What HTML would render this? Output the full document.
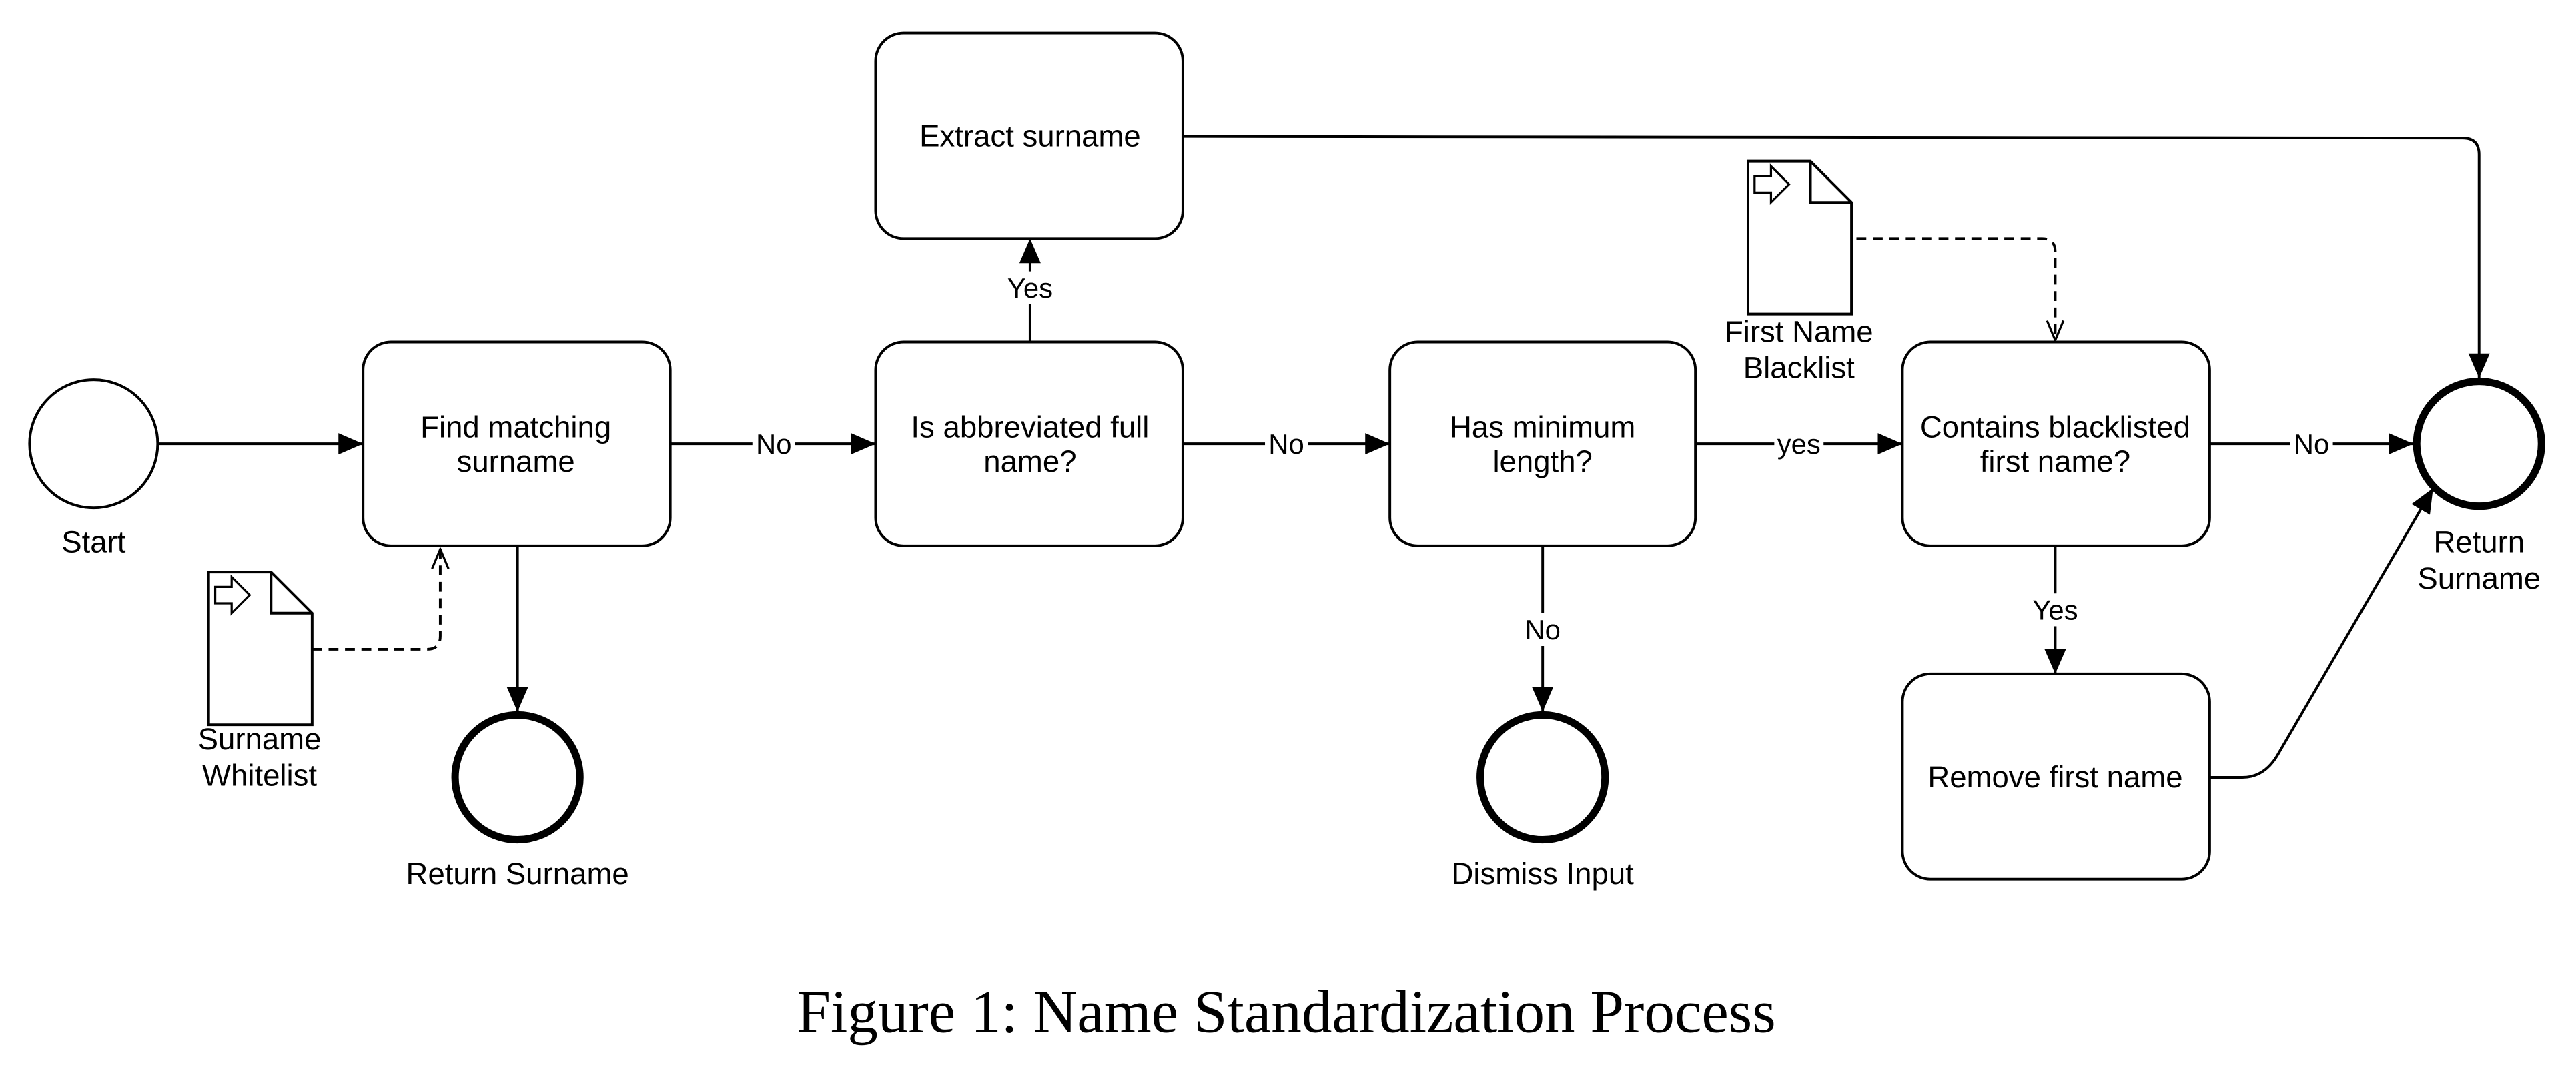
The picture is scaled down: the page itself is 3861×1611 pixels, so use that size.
<!DOCTYPE html>
<html><head><meta charset="utf-8"><style>html,body{margin:0;padding:0;background:#fff}svg{display:block}</style></head>
<body>
<svg width="3861" height="1611" viewBox="0 0 1568 654" xmlns="http://www.w3.org/2000/svg" font-family="Liberation Sans, sans-serif" font-size="18.5">
<defs>
<marker id="a" markerUnits="userSpaceOnUse" markerWidth="16" markerHeight="16" viewBox="0 0 16 16" refX="15" refY="8" orient="auto"><path d="M0,1.5 L15,8 L0,14.5 Z" fill="#000"/></marker>
<marker id="o" markerUnits="userSpaceOnUse" markerWidth="14" markerHeight="14" viewBox="0 0 14 14" refX="13" refY="7" orient="auto"><path d="M1,2 L13,7 L1,12" fill="none" stroke="#000" stroke-width="1.3"/></marker>
</defs>
<rect width="1568" height="654" fill="#fff"/>
<g fill="none" stroke="#000" stroke-width="1.6">
<circle cx="57" cy="270" r="39"/>
<rect x="221" y="208" width="187" height="124" rx="17"/>
<rect x="533" y="208" width="187" height="124" rx="17"/>
<rect x="533" y="20" width="187" height="125" rx="17"/>
<rect x="846" y="208" width="186" height="124" rx="17"/>
<rect x="1158" y="208" width="187" height="124" rx="17"/>
<rect x="1158" y="410" width="187" height="125" rx="17"/>
<g stroke-width="4.5">
<circle cx="315" cy="473" r="38"/>
<circle cx="939" cy="473" r="38"/>
<circle cx="1509" cy="270" r="38"/>
</g>
<path d="M127,348 H165 L190,373 V441 H127 Z M165,348 V373 H190"/>
<path d="M131,357 H141 V351 L152,362 L141,373 V367 H131 Z" stroke-width="1.3"/>
<path d="M1064,98 H1102 L1127,123 V191 H1064 Z M1102,98 V123 H1127"/>
<path d="M1068,107 H1078 V101 L1089,112 L1078,123 V117 H1068 Z" stroke-width="1.3"/>
<line x1="96" y1="270" x2="221" y2="270" marker-end="url(#a)"/>
<line x1="408" y1="270" x2="533" y2="270" marker-end="url(#a)"/>
<line x1="720" y1="270" x2="846" y2="270" marker-end="url(#a)"/>
<line x1="1032" y1="270" x2="1158" y2="270" marker-end="url(#a)"/>
<line x1="1345" y1="270" x2="1469" y2="270" marker-end="url(#a)"/>
<line x1="627" y1="208" x2="627" y2="145" marker-end="url(#a)"/>
<line x1="315" y1="332" x2="315" y2="433" marker-end="url(#a)"/>
<line x1="939" y1="332" x2="939" y2="433" marker-end="url(#a)"/>
<line x1="1251" y1="332" x2="1251" y2="410" marker-end="url(#a)"/>
<path d="M720,83 L1499,84 Q1509,84 1509,94 V230" marker-end="url(#a)"/>
<path d="M1345,473 H1365 Q1378,473 1386,460 L1481,297" marker-end="url(#a)"/>
<path d="M190,395 H260 Q268,395 268,387 V334" stroke-dasharray="6,4" marker-end="url(#o)"/>
<path d="M1130,145 H1243 Q1251,145 1251,153 V207" stroke-dasharray="6,4" marker-end="url(#o)"/>
</g>
<g fill="#fff">
<rect x="458" y="260" width="26" height="20"/>
<rect x="770" y="260" width="26" height="20"/>
<rect x="1080" y="260" width="30" height="20"/>
<rect x="1394" y="260" width="26" height="20"/>
<rect x="610" y="165" width="34" height="20"/>
<rect x="925" y="373" width="28" height="20"/>
<rect x="1234" y="361" width="34" height="20"/>
</g>
<g text-anchor="middle" fill="#000" font-size="17">
<text x="471" y="276">No</text>
<text x="783" y="276">No</text>
<text x="1095" y="276">yes</text>
<text x="1407" y="276">No</text>
<text x="627" y="181">Yes</text>
<text x="939" y="389">No</text>
<text x="1251" y="377">Yes</text>
</g>
<g text-anchor="middle" fill="#000">
<text x="57" y="336">Start</text>
<text x="314" y="266">Find matching</text>
<text x="314" y="287">surname</text>
<text x="627" y="266">Is abbreviated full</text>
<text x="627" y="287">name?</text>
<text x="627" y="89">Extract surname</text>
<text x="939" y="266">Has minimum</text>
<text x="939" y="287">length?</text>
<text x="1251" y="266">Contains blacklisted</text>
<text x="1251" y="287">first name?</text>
<text x="1251" y="479">Remove first name</text>
<text x="158" y="456">Surname</text>
<text x="158" y="478">Whitelist</text>
<text x="1095" y="208">First Name</text>
<text x="1095" y="230">Blacklist</text>
<text x="315" y="538">Return Surname</text>
<text x="939" y="538">Dismiss Input</text>
<text x="1509" y="336">Return</text>
<text x="1509" y="358">Surname</text>
<text x="783" y="628" font-family="Liberation Serif, serif" font-size="37">Figure 1: Name Standardization Process</text>
</g>
</svg>
</body></html>
